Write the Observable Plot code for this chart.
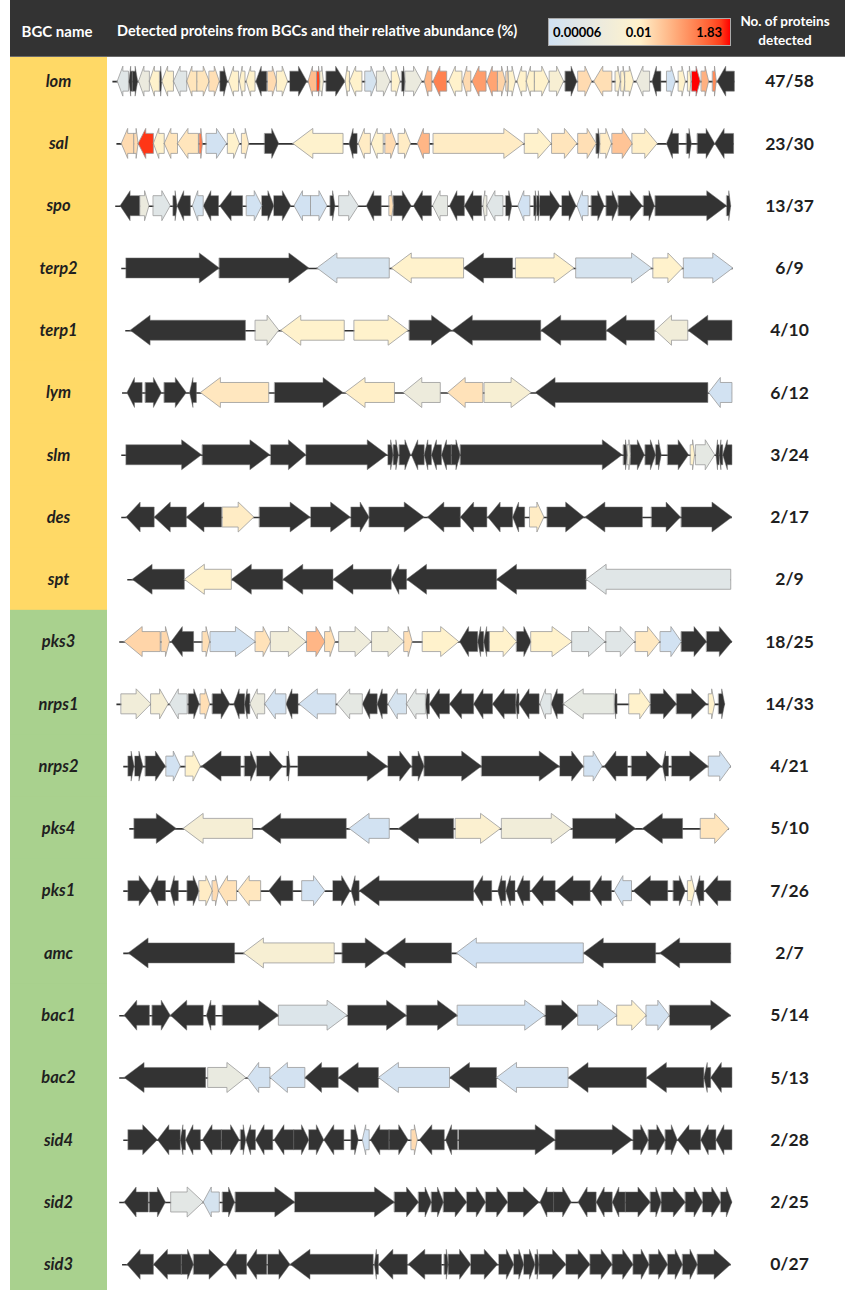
<!DOCTYPE html>
<html><head><meta charset="utf-8">
<script src="https://cdn.jsdelivr.net/npm/d3@7"></script>
<script src="https://cdn.jsdelivr.net/npm/@observablehq/plot@0.6"></script>
<style>
html,body{margin:0;padding:0;background:#fff;}
#page{position:relative;width:845px;height:1290px;overflow:hidden;font-family:Lato,"Open Sans",sans-serif;}
#header{position:relative;height:57px;margin-left:10px;background:#333;color:#fff;font-weight:700;box-sizing:border-box;border-bottom:1px solid #6a6a6a;}
#header .t{position:absolute;white-space:nowrap;font-size:14.5px;line-height:1;}
#legend{position:absolute;left:538px;top:18px;width:183px;height:28px;box-sizing:border-box;border:1px solid #aaa;}
#legend span{position:absolute;top:50%;transform:translateY(-50%);color:#000;font-size:13px;font-weight:700;}
#chart svg{display:block;}
</style></head>
<body><div id="page">
<div id="header">
  <div class="t" style="left:47px;top:31px;transform:translate(-50%,-50%);font-size:15px">BGC name</div>
  <div class="t" style="left:107px;top:31px;transform:translateY(-50%)">Detected proteins from BGCs and their relative abundance (%)</div>
  <div id="legend"></div>
  <div class="t" style="left:775px;top:22px;transform:translate(-50%,-50%);font-size:13.5px">No. of proteins</div>
  <div class="t" style="left:775px;top:41px;transform:translate(-50%,-50%);font-size:13.5px">detected</div>
</div>
<div id="chart"></div>
</div>
<script>
// ---- data: genes as [start, end, strand, relative abundance % (null = not detected)] ----
const lom = [[18,46,-1,0.0003],[47,56,-1,null],[56,69,1,null],[71,98,-1,0.001],[98,123,-1,0.01],[123,129,1,null],
 [129,158,-1,0.008],[158,191,-1,0.0003],[191,217,-1,0.015],[217,247,1,0.015],[247,272,1,0.018],
 [274,292,1,null],[295,320,-1,0.01],[322,336,-1,0.01],[339,361,-1,0.01],[363,390,-1,null],
 [393,415,1,0.02],[415,442,1,0.01],[448,490,1,null],[493,515,-1,0.05],[515,523,1,1.0],[523,531,1,0.004],
 [538,585,1,null],[585,596,-1,0.01],[596,627,-1,0.01],[635,664,1,0.0001],[664,697,1,0.001],[701,722,1,0.01],
 [726,735,1,null],[735,776,1,0.001],[782,801,-1,0.06],[804,838,-1,0.25],[843,876,-1,0.01],[878,898,-1,0.02],
 [901,936,-1,0.12],[938,965,-1,0.1],[965,984,1,0.025],[986,992,1,0.02],[992,1009,1,0.01],[1013,1036,-1,0.01],
 [1036,1057,-1,0.01],[1057,1092,1,0.01],[1094,1129,1,0.004],[1133,1162,1,null],[1165,1199,1,0.02],
 [1204,1249,-1,0.018],[1258,1270,1,0.008],[1272,1282,1,0.01],[1282,1303,1,0.01],[1310,1343,-1,0.001],
 [1349,1371,-1,null],[1386,1407,1,0.00007],[1415,1432,1,0.01],[1438,1446,1,0.01],[1448,1469,1,1.83],
 [1472,1490,1,0.07],[1500,1509,1,0.2],[1511,1554,-1,null]];
const sal = [[28,60,-1,0.02],[60,70,1,0.02],[70,108,-1,1.2],[108,135,-1,0.01],[135,168,-1,0.015],[168,220,-1,0.015],[222,230,1,0.3],[240,290,1,0.00007],[293,322,1,0.01],[328,345,1,0.012],[385,420,1,null],[455,580,-1,0.009],[595,615,-1,null],[618,648,-1,0.012],[650,680,-1,0.01],[685,712,1,0.02],[718,748,1,0.012],[765,795,-1,0.06],[805,1030,1,0.012],[1032,1098,1,0.01],[1100,1162,1,0.015],[1165,1210,1,0.018],[1210,1220,1,null],[1220,1248,1,0.012],[1250,1300,1,0.04],[1300,1362,1,0.011],[1385,1415,-1,null],[1435,1447,1,null],[1462,1505,1,null],[1505,1552,-1,null]];
const spo = [[25,75,-1,null],[75,97,1,0.001],[108,150,1,0.0003],[157,167,1,null],[167,200,-1,null],[205,232,-1,0.0001],[232,270,-1,null],[273,330,-1,null],[340,378,1,0.00007],[378,408,1,null],[408,450,1,null],[458,500,-1,0.00007],[500,540,1,0.00008],[548,560,1,null],[570,618,1,0.0003],[638,675,-1,null],[695,705,1,0.018],[705,750,1,null],[755,800,-1,null],[803,840,-1,0.0005],[845,882,-1,null],[882,925,-1,null],[928,938,-1,0.001],[938,978,-1,0.0003],[985,1000,1,null],[1015,1045,-1,0.00007],[1055,1062,1,null],[1062,1070,1,null],[1070,1120,1,null],[1125,1160,1,null],[1162,1190,-1,0.00007],[1198,1230,1,null],[1235,1265,1,null],[1265,1325,1,null],[1328,1355,1,null],[1357,1535,1,null],[1535,1545,1,null]];
const terp2 = [[40,272,1,null],[272,495,1,null],[515,695,-1,0.0001],[700,880,-1,0.01],[880,1002,-1,null],[1010,1155,1,0.01],[1160,1348,1,0.0001],[1352,1425,1,0.01],[1428,1550,1,0.00007]];
const terp1 = [[50,337,-1,null],[362,420,1,0.001],[425,583,-1,0.01],[608,742,1,0.01],[745,850,1,null],[852,1072,-1,null],[1072,1235,-1,null],[1235,1355,-1,null],[1357,1438,-1,0.002],[1438,1548,-1,null]];
const lym = [[42,80,-1,null],[88,128,1,null],[135,190,1,null],[198,215,-1,null],[225,395,-1,0.014],[410,580,1,null],[585,708,-1,0.011],[730,822,-1,0.0012],[840,928,-1,0.016],[932,1048,1,0.004],[1058,1488,-1,null],[1490,1548,-1,0.00007]];
const slm = [[40,228,1,null],[230,398,1,null],[400,488,1,null],[488,690,1,null],[692,705,1,null],[705,718,1,null],[720,748,1,null],[750,782,-1,null],[782,800,-1,null],[800,825,-1,null],[825,850,-1,null],[850,872,1,null],[872,1275,1,null],[1278,1288,1,null],[1288,1295,1,0.001],[1295,1330,1,null],[1332,1358,1,null],[1358,1372,1,null],[1388,1440,1,null],[1445,1455,1,0.01],[1458,1505,1,0.0005],[1508,1516,-1,null],[1516,1525,-1,null],[1525,1548,-1,null]];
const des = [[40,110,-1,null],[110,190,-1,null],[190,278,-1,null],[280,358,1,0.012],[372,498,1,null],[500,598,1,null],[600,645,1,null],[645,782,1,null],[790,872,-1,null],[872,938,-1,null],[940,1002,-1,null],[1002,1032,-1,null],[1045,1080,1,0.012],[1088,1180,1,null],[1182,1325,-1,null],[1348,1420,1,null],[1422,1548,1,null]];
const spt = [[55,185,-1,null],[185,302,-1,0.01],[302,430,-1,null],[430,555,-1,null],[555,700,-1,null],[700,738,-1,null],[738,962,-1,null],[962,1185,-1,null],[1185,1545,-1,0.0003]];
const pks3 = [[35,125,-1,0.024],[128,148,1,0.022],[152,208,-1,null],[230,248,1,0.018],[250,362,1,0.00007],[362,400,1,0.016],[400,488,1,0.002],[490,535,1,0.06],[535,560,1,0.018],[570,650,1,0.0015],[652,732,1,0.002],[732,752,1,0.018],[778,868,1,0.01],[870,915,-1,null],[915,930,-1,null],[930,945,-1,null],[945,1012,1,0.01],[1012,1048,1,null],[1048,1150,1,0.01],[1150,1232,1,0.0003],[1235,1305,1,0.0003],[1308,1368,1,0.013],[1370,1422,1,0.00007],[1422,1485,1,null],[1485,1548,1,null]];
const nrps1 = [[28,102,1,0.002],[102,145,1,0.003],[148,192,-1,0.0003],[195,222,1,null],[225,248,1,0.018],[255,298,1,null],[308,335,-1,null],[335,348,-1,null],[348,385,-1,0.001],[385,438,-1,0.00008],[438,468,-1,null],[470,562,-1,0.00008],[565,628,-1,0.0005],[628,665,-1,null],[665,690,-1,null],[692,738,-1,0.0001],[738,785,-1,0.0004],[785,795,-1,null],[795,845,-1,null],[845,905,-1,null],[905,952,-1,null],[952,1010,-1,null],[1010,1018,-1,null],[1018,1068,-1,null],[1070,1098,-1,0.0003],[1098,1128,-1,null],[1128,1255,-1,0.0006],[1255,1262,-1,null],[1292,1345,1,0.01],[1345,1410,1,null],[1410,1485,1,null],[1490,1505,1,0.01],[1515,1530,1,null]];
const nrps2 = [[45,60,1,null],[62,82,1,null],[88,138,1,null],[140,175,1,0.00007],[188,225,1,0.01],[228,325,-1,null],[335,365,1,null],[365,430,1,null],[440,448,1,null],[468,690,1,null],[692,750,1,null],[752,782,1,null],[782,925,1,null],[925,1118,1,null],[1120,1178,1,null],[1180,1225,1,0.00007],[1230,1288,-1,null],[1298,1372,1,null],[1375,1390,-1,null],[1398,1488,1,null],[1490,1545,1,0.00007]];
const pks4 = [[60,165,1,null],[182,355,-1,0.003],[375,588,-1,null],[595,695,-1,0.00007],[718,855,-1,null],[860,972,1,0.006],[975,1148,1,0.002],[1152,1308,1,null],[1325,1425,-1,null],[1470,1540,1,0.015]];
const pks1 = [[45,100,1,null],[100,138,-1,null],[150,170,-1,null],[192,222,1,null],[222,255,1,0.012],[255,270,1,0.02],[270,315,-1,0.016],[318,375,-1,0.014],[395,455,-1,null],[478,535,1,0.00007],[555,598,1,null],[600,620,-1,null],[620,905,-1,null],[905,950,-1,null],[965,985,-1,null],[985,1008,-1,null],[1012,1045,-1,null],[1048,1108,-1,null],[1110,1195,-1,null],[1198,1248,-1,null],[1255,1298,-1,0.00007],[1302,1388,-1,null],[1402,1432,1,null],[1438,1455,1,0.01],[1458,1478,-1,null],[1480,1545,-1,null]];
const amc = [[45,310,-1,null],[332,558,-1,0.004],[578,685,1,null],[685,850,-1,null],[862,1178,-1,0.00006],[1178,1358,-1,null],[1368,1545,-1,null]];
const bac1 = [[35,98,-1,null],[105,150,1,null],[150,232,-1,null],[240,262,-1,null],[280,420,1,null],[420,590,1,0.0002],[592,738,1,null],[738,865,1,null],[865,1082,1,0.00007],[1084,1165,1,null],[1165,1262,1,0.00008],[1262,1335,1,0.01],[1335,1392,1,0.00008],[1393,1545,1,null]];
const bac2 = [[35,238,-1,null],[244,338,1,0.0008],[342,398,-1,0.00008],[398,485,-1,0.00008],[485,568,-1,null],[568,668,-1,null],[668,845,-1,0.00008],[845,962,-1,null],[962,1140,-1,0.00008],[1140,1335,-1,null],[1335,1478,-1,null],[1478,1495,-1,null],[1495,1548,-1,null]];
const sid4 = [[45,118,1,null],[118,175,-1,null],[175,188,-1,null],[188,225,-1,null],[230,278,-1,null],[278,322,1,null],[325,338,1,null],[338,362,-1,null],[362,405,-1,null],[408,458,-1,null],[458,495,1,null],[495,532,1,null],[532,582,-1,null],[600,618,1,null],[628,645,-1,0.00007],[648,695,-1,null],[695,742,1,null],[750,765,1,0.02],[770,832,-1,null],[835,865,-1,null],[868,1108,1,null],[1108,1300,1,null],[1302,1340,1,null],[1340,1382,1,null],[1382,1412,1,null],[1412,1470,-1,null],[1470,1508,-1,null],[1508,1548,-1,null]];
const sid2 = [[35,95,-1,null],[98,138,1,null],[152,232,1,0.0004],[232,272,-1,0.0001],[280,310,1,null],[312,460,1,null],[460,708,1,null],[708,768,1,null],[768,800,1,null],[800,830,1,null],[830,888,1,null],[888,935,1,null],[935,990,1,null],[990,1068,1,null],[1070,1105,-1,null],[1105,1148,1,null],[1165,1210,-1,null],[1210,1250,-1,null],[1250,1283,-1,null],[1283,1345,1,null],[1345,1372,1,null],[1372,1432,1,null],[1432,1475,1,null],[1475,1520,1,null],[1520,1548,1,null]];
const sid3 = [[42,108,-1,null],[108,178,-1,null],[178,208,1,null],[208,285,1,null],[288,340,-1,null],[340,390,-1,null],[393,448,1,null],[448,655,-1,null],[658,668,-1,null],[668,740,-1,null],[742,825,-1,null],[832,842,1,null],[842,898,1,null],[898,965,1,null],[968,1005,1,null],[1005,1030,1,null],[1030,1058,1,null],[1058,1068,1,null],[1068,1135,1,null],[1135,1195,1,null],[1195,1250,1,null],[1250,1302,1,null],[1302,1342,1,null],[1342,1388,1,null],[1388,1425,1,null],[1425,1462,1,null],[1462,1545,1,null]];

const bgcNames = ["lom","sal","spo","terp2","terp1","lym","slm","des","spt","pks3","nrps1","nrps2","pks4","pks1","amc","bac1","bac2","sid4","sid2","sid3"];
const bgcGenes = [lom,sal,spo,terp2,terp1,lym,slm,des,spt,pks3,nrps1,nrps2,pks4,pks1,amc,bac1,bac2,sid4,sid2,sid3];
const bgcGroup = ["A","A","A","A","A","A","A","A","A","B","B","B","B","B","B","B","B","B","B","B"];
const proteinsDetected = ["47/58","23/30","13/37","6/9","4/10","6/12","3/24","2/17","2/9","18/25","14/33","4/21","5/10","7/26","2/7","5/14","5/13","2/28","2/25","0/27"];
const legendTicks = [0.00006, 0.01, 1.83];
const legendLabels = ["0.00006", "0.01", "1.83"];

// ---- layout constants ----
const W = 845, H = 1233, rowH = 62.27, yTop = -7;
const posMax = 1568, xLeft = 110, xRight = 740;
const pxPerUnit = (xRight - xLeft) / posMax;
const headLen = 20 / pxPerUnit;            // arrow head length (px -> units)
const bodyHalf = 10 / rowH, headHalf = 15 / rowH;
const colors = ["#d0e1f3", "#fff2cc", "#ff0000"];

const rows = bgcNames.map((name, i) => {
  const g = bgcGenes[i];
  return {name, i, yc: i + 0.5, y1: i, y2: i + 1, group: bgcGroup[i], count: proteinsDetected[i],
    lineStart: d3.min(g, d => d[0]) - 12, lineEnd: d3.max(g, d => d[1])};
});

const pts = [];
bgcGenes.forEach((genes, i) => {
  genes.forEach(([s, e, dir, ab], j) => {
    const h = Math.min(headLen, (e - s) * 0.5);
    const gid = `${i}-${j}`;
    const poly = dir > 0
      ? [[s, bodyHalf], [e - h, bodyHalf], [e - h, headHalf], [e, 0]]
      : [[s, 0], [s + h, headHalf], [s + h, bodyHalf], [e, bodyHalf]];
    for (const [x, hh] of poly) pts.push({gid, x, y1: i + 0.5 - hh, y2: i + 0.5 + hh, ab});
  });
});
const undetected = pts.filter(d => d.ab == null);
const detected = pts.filter(d => d.ab != null);

const chart = Plot.plot({
  width: W, height: H, margin: 0,
  x: {domain: [0, posMax], range: [xLeft, xRight], axis: null},
  y: {domain: [0, 20], range: [yTop, yTop + 20 * rowH], axis: null},
  color: {type: "log", domain: legendTicks, range: colors, interpolate: "lab"},
  style: {background: "transparent", fontFamily: "Lato, 'Open Sans', sans-serif"},
  marks: [
    Plot.rect(rows.filter(r => r.group === "A"), {y1: "y1", y2: "y2", fill: "#ffd966", insetLeft: 10, insetRight: W - 107, insetTop: -0.6, insetBottom: -0.6}),
    Plot.rect(rows.filter(r => r.group === "B"), {y1: "y1", y2: "y2", fill: "#a9d18e", insetLeft: 10, insetRight: W - 107, insetTop: -0.6, insetBottom: -0.6}),
    Plot.ruleY(rows, {y: "yc", x1: "lineStart", x2: "lineEnd", stroke: "#333", strokeWidth: 1.6}),
    Plot.areaY(undetected, {x: "x", y1: "y1", y2: "y2", z: "gid", fill: "#333", stroke: "#707070", strokeWidth: 0.5}),
    Plot.areaY(detected, {x: "x", y1: "y1", y2: "y2", z: "gid", fill: "ab", stroke: "#9a9a9a", strokeWidth: 0.8}),
    Plot.text(rows, {y: "yc", text: "name", frameAnchor: "left", dx: 58, textAnchor: "middle", fontSize: 16.5, fontWeight: "bold", fontStyle: "italic", fill: "#1f1f1f"}),
    Plot.text(rows, {y: "yc", text: "count", frameAnchor: "right", dx: -56, textAnchor: "middle", fontSize: 17.5, fontWeight: "bold", fill: "#1f1f1f"})
  ]
});
document.getElementById("chart").appendChild(chart);

// ---- colour legend (gradient sampled from the plot's colour scale) ----
const cs = chart.scale("color");
const lo = Math.log(legendTicks[0]), hi = Math.log(legendTicks[2]);
const stops = d3.range(0, 21).map(k => {
  const t = k / 20;
  return `${cs.apply(Math.exp(lo + t * (hi - lo)))} ${(t * 100).toFixed(1)}%`;
});
const leg = document.getElementById("legend");
leg.style.background = `linear-gradient(to right, ${stops.join(",")})`;
legendTicks.forEach((v, k) => {
  const sp = document.createElement("span");
  sp.textContent = legendLabels[k];
  const f = (Math.log(v) - lo) / (hi - lo);
  if (k === 0) sp.style.left = "4px";
  else if (k === legendTicks.length - 1) sp.style.right = "8px";
  else { sp.style.left = (f * 100) + "%"; sp.style.transform = "translate(-50%,-50%)"; }
  leg.appendChild(sp);
});
</script>
</body></html>
